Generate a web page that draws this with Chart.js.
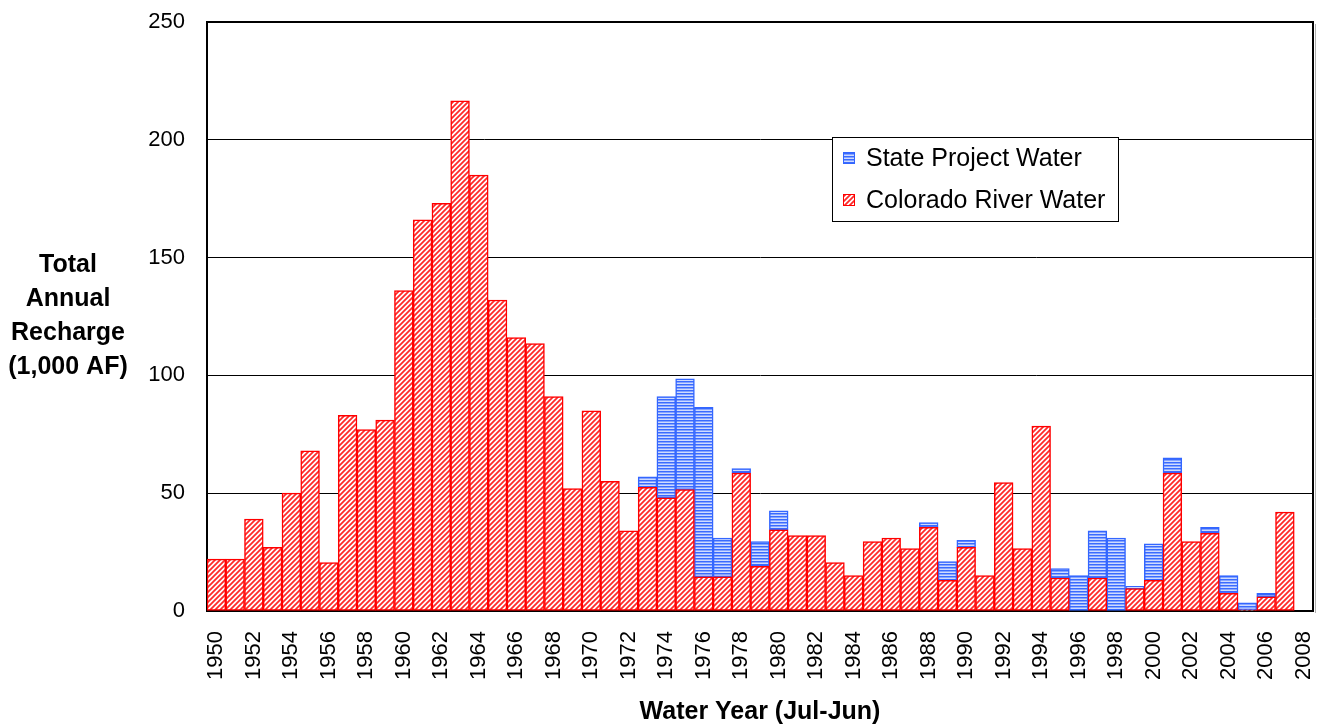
<!DOCTYPE html>
<html>
<head>
<meta charset="utf-8">
<title>Total Annual Recharge</title>
<script src="https://cdn.jsdelivr.net/npm/chart.js@4.4.1/dist/chart.umd.min.js"></script>
<style>
  html, body { margin: 0; padding: 0; background: #fff; }
  #rechargeChart { display: block; }
</style>
</head>
<body>
<canvas id="rechargeChart" width="1320" height="726"></canvas>
<script>
// Water years 1950 - 2008 (2008 axis slot has no data yet)
const years = [];
for (let y = 1950; y <= 2008; y++) years.push(String(y));

// Colorado River water recharge, 1,000 AF
const coloradoRiver = [
  22, 22, 39, 27, 50, 68, 20.5, 83, 77, 81,          // 1950-59
  136, 166, 173, 216.5, 185, 132, 116, 113.5, 91, 52, // 1960-69
  85, 55, 34, 52.5, 48, 51.5, 14.5, 14.5, 58.5, 19,   // 1970-79
  34.5, 32, 32, 20.5, 15, 29.5, 31, 26.5, 35.5, 13,   // 1980-89
  27, 15, 54.5, 26.5, 78.5, 14, null, 14, null, 9.5,  // 1990-99
  13, 58.5, 29.5, 33, 7.5, 0.5, 6, 42, null           // 2000-08
];

// State Project water recharge, 1,000 AF (stacked on top)
const stateProject = [
  null, null, null, null, null, null, null, null, null, null,
  null, null, null, null, null, null, null, null, null, null,
  null, null, null, 4.5, 43, 47, 72, 16.5, 2, 10.5,
  8, null, null, null, null, null, null, null, 2, 8,
  3, null, null, null, null, 4, 15, 20, 31, 1,
  15.5, 6.5, null, 2.5, 7.5, 3, 1.5, null, null
];

const yTicks = [0, 50, 100, 150, 200, 250];
const yTitle = ['Total', 'Annual', 'Recharge', '(1,000 AF)'];
const xTitle = 'Water Year (Jul-Jun)';

const FONT = '"Liberation Sans", Arial, sans-serif';

const canvas = document.getElementById('rechargeChart');
const ctx = canvas.getContext('2d');

// diagonal red hatch
function makeHatch() {
  const t = document.createElement('canvas');
  t.width = 5; t.height = 5;
  const c = t.getContext('2d');
  c.fillStyle = '#fff';
  c.fillRect(0, 0, 5, 5);
  c.strokeStyle = '#ff2a2a';
  c.lineWidth = 1.8;
  c.beginPath();
  c.moveTo(-1, 6); c.lineTo(6, -1);
  c.moveTo(-1, 1); c.lineTo(1, -1);
  c.moveTo(4, 6); c.lineTo(6, 4);
  c.stroke();
  return ctx.createPattern(t, 'repeat');
}

// horizontal blue stripes
function makeStripes() {
  const t = document.createElement('canvas');
  t.width = 4; t.height = 3;
  const c = t.getContext('2d');
  c.fillStyle = '#3a6bff'; c.fillRect(0, 0, 4, 1);
  c.fillStyle = '#86a4ff'; c.fillRect(0, 1, 4, 1);
  c.fillStyle = '#cfdbff'; c.fillRect(0, 2, 4, 1);
  return ctx.createPattern(t, 'repeat');
}

const hatch = makeHatch();
const stripes = makeStripes();

// frame on the right side of the plot
const frame = {
  id: 'frame',
  afterDraw(chart) {
    const { ctx, chartArea: a } = chart;
    ctx.save();
    ctx.strokeStyle = '#b0b0b0';
    ctx.lineWidth = 1;
    ctx.beginPath();
    ctx.moveTo(a.right + 2.5, a.top + 2);
    ctx.lineTo(a.right + 2.5, a.bottom + 2);
    ctx.stroke();
    ctx.strokeStyle = '#000';
    ctx.lineWidth = 2;
    ctx.beginPath();
    ctx.moveTo(a.right, a.top - 1);
    ctx.lineTo(a.right, a.bottom + 1);
    ctx.stroke();
    ctx.restore();
  }
};

// axis titles
const titles = {
  id: 'titles',
  afterDraw(chart) {
    const { ctx, chartArea: a } = chart;
    ctx.save();
    ctx.fillStyle = '#000';
    ctx.font = 'bold 25px ' + FONT;
    ctx.textAlign = 'center';
    ctx.textBaseline = 'middle';
    yTitle.forEach((line, i) => ctx.fillText(line, 68, 265 + i * 34));
    ctx.font = 'bold 25px ' + FONT;
    ctx.fillText(xTitle, (a.left + a.right) / 2, 712);
    ctx.restore();
  }
};

// boxed legend inside the plot
const boxLegend = {
  id: 'boxLegend',
  afterDraw(chart) {
    const { ctx } = chart;
    const items = chart.data.datasets.slice().reverse();
    const x = 832, y = 137, w = 286, h = 84;
    ctx.save();
    ctx.fillStyle = '#fff';
    ctx.fillRect(x, y, w, h);
    ctx.strokeStyle = '#000';
    ctx.lineWidth = 1;
    ctx.strokeRect(x + 0.5, y + 0.5, w, h);
    ctx.font = '25px ' + FONT;
    ctx.textBaseline = 'middle';
    items.forEach((ds, i) => {
      const cy = y + 21 + i * 42;
      ctx.fillStyle = ds.backgroundColor;
      ctx.fillRect(x + 11, cy - 6, 12, 12);
      ctx.strokeStyle = ds.borderColor;
      ctx.lineWidth = 1;
      ctx.strokeRect(x + 11.5, cy - 5.5, 11, 11);
      ctx.fillStyle = '#000';
      ctx.fillText(ds.label, x + 34, cy + 1);
    });
    ctx.restore();
  }
};

new Chart(ctx, {
  type: 'bar',
  data: {
    labels: years,
    datasets: [
      {
        label: 'Colorado River Water',
        data: coloradoRiver,
        backgroundColor: hatch,
        borderColor: '#ff0000',
        borderWidth: 1.5,
        borderSkipped: false
      },
      {
        label: 'State Project Water',
        data: stateProject,
        backgroundColor: stripes,
        borderColor: '#3366ff',
        borderWidth: 1.5,
        borderSkipped: false
      }
    ]
  },
  options: {
    responsive: false,
    devicePixelRatio: 1,
    animation: false,
    layout: { padding: { top: 22, right: 7, left: 0, bottom: 0 } },
    datasets: { bar: { barPercentage: 1, categoryPercentage: 1 } },
    plugins: {
      legend: { display: false },
      tooltip: { enabled: false }
    },
    scales: {
      x: {
        stacked: true,
        afterFit: s => { s.height = 115; s.paddingLeft = 0; s.paddingRight = 0; },
        grid: { display: false, drawTicks: false },
        border: { color: '#000', width: 2 },
        ticks: {
          autoSkip: false,
          minRotation: 90,
          maxRotation: 90,
          padding: 20,
          color: '#000',
          font: { family: FONT, size: 22 },
          callback: (v, i) => (i % 2 === 0 ? years[i] : '')
        }
      },
      y: {
        stacked: true,
        min: 0,
        max: 250,
        afterFit: s => { s.width = 207; s.paddingTop = 0; s.paddingBottom = 0; },
        afterBuildTicks: s => { s.ticks = yTicks.map(v => ({ value: v })); },
        grid: {
          color: '#000',
          lineWidth: c => (c.tick && c.tick.value === 250 ? 2 : 1),
          drawTicks: false
        },
        border: { color: '#000', width: 2 },
        ticks: {
          padding: 22,
          color: '#000',
          font: { family: FONT, size: 22 }
        }
      }
    }
  },
  plugins: [frame, titles, boxLegend]
});
</script>
</body>
</html>
